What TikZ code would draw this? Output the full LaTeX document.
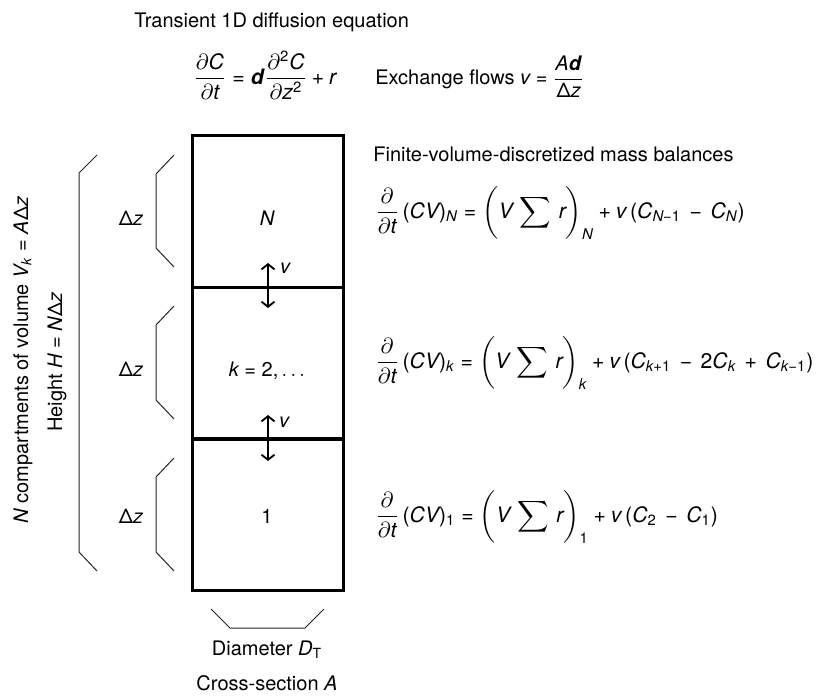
\documentclass[tikz,border=0pt]{standalone}
\usepackage{amsmath}
\usepackage[no-math]{fontspec}
\setmainfont{TeX Gyre Heros}[NFSSFamily=hvs]
\DeclareSymbolFont{hvup}{TU}{hvs}{m}{n}
\DeclareSymbolFont{hvit}{TU}{hvs}{m}{it}
\makeatletter
\@tempcnta=`A
\loop \Umathcode\@tempcnta=7 \symhvit \@tempcnta \advance\@tempcnta by 1 \ifnum\@tempcnta<`[ \repeat
\@tempcnta=`a
\loop \Umathcode\@tempcnta=7 \symhvit \@tempcnta \advance\@tempcnta by 1 \ifnum\@tempcnta<`\{ \repeat
\@tempcnta=`0
\loop \Umathcode\@tempcnta=0 \symhvup \@tempcnta \advance\@tempcnta by 1 \ifnum\@tempcnta<`: \repeat
\makeatother
\Umathcode"2B=2 \symhvup "2B
\Umathcode"3D=3 \symhvup "3D
\Umathcode"28=4 \symhvup "28
\Umathcode"29=5 \symhvup "29
\Umathcode"2C=6 \symhvup "2C
\Umathcode"2D=2 \symhvup "2212
\usetikzlibrary{arrows.meta}
\newcommand{\Dl}{\textup{Δ}}
\newcommand{\bd}{\textbf{\textit{d}}}
\newcommand{\wmin}{\mathbin{\,-\,}}
\newcommand{\wplus}{\mathbin{\,+\,}}
\begin{document}
\begin{tikzpicture}[x=0.5pt,y=-0.5pt,font=\fontsize{10}{12}\selectfont,
  cell/.style={draw,line width=1.5pt,minimum width=75.5pt,minimum height=75.75pt,inner sep=0pt},
  brk/.style={draw=black!85,line width=0.5pt},
  flow/.style={line width=0.9pt,{Straight Barb[length=2.6pt,width=6.5pt]}-{Straight Barb[length=2.6pt,width=6.5pt]}},
  lbl/.style={inner sep=0pt,anchor=base},
  txt/.style={inner sep=0pt,anchor=base west},
  eqn/.style={txt,font=\fontsize{10.6}{12}\selectfont}]
\useasboundingbox (0,0) rectangle (826,696);
% cells
\node[cell] (cN) at (267.5,211.5) {};
\node[cell] (ck) at (267.5,363) {};
\node[cell] (c1) at (267.5,515) {};
% cell labels
\node[lbl] (lN) at (267,225) {$N$};
\node[lbl] (lk) at (267,376) {$k = 2, \ldots$};
\node[lbl] (l1) at (267,523) {$1$};
% exchange arrows
\coordinate (a1t) at (268,263);
\coordinate (a1b) at (268,308);
\coordinate (a2t) at (268,415);
\coordinate (a2b) at (268,461);
\draw[flow] (a1t) -- (a1b);
\draw[flow] (a2t) -- (a2b);
\node[lbl] (v1) at (285,273) {$v$};
\node[lbl] (v2) at (284,427) {$v$};
% small brackets
\draw[brk] (174,155) -- (156,174) -- (156,248) -- (174,267);
\draw[brk] (174,306) -- (156,325) -- (156,400) -- (174,419);
\draw[brk] (174,458) -- (156,477) -- (156,552) -- (174,571);
\node[lbl] (dz1) at (131,225) {$\Dl z$};
\node[lbl] (dz2) at (131,376) {$\Dl z$};
\node[lbl] (dz3) at (131,523) {$\Dl z$};
% big bracket
\draw[brk] (97,155) -- (79,173) -- (79,552) -- (97,571);
\node[lbl,rotate=90] (comp) at (28,360) {$N$ compartments of volume $V_k = A\Dl z$};
\node[lbl,rotate=90] (hgt) at (62,362) {Height $H = N\Dl z$};
% bottom bracket
\draw[brk] (211,609) -- (230,628) -- (305,628) -- (324,609);
\node[lbl] (diam) at (267,655) {Diameter $D_{\textup{T}}$};
\node[lbl] (cross) at (267,690) {Cross-section $A$};
% top texts
\node[txt] (title) at (134,27) {Transient 1D diffusion equation};
\node[eqn] (pde) at (193,84) {$\dfrac{\partial C}{\partial t} = \bd\dfrac{\partial^2 C}{\partial z^2} + r$};
\node[txt] (exch) at (375,84) {Exchange flows $v = \dfrac{A\bd}{\Dl z}$};
\node[txt] (fv) at (373,161) {Finite-volume-discretized mass balances};
% balance equations
\node[eqn] (eqN) at (375,218) {$\dfrac{\partial}{\partial t}\,(CV)_N = \biggl(V\,\displaystyle\sum\, r\biggr)_N + v\,(C_{N-1} \wmin C_N)$};
\node[eqn] (eqk) at (375,368) {$\dfrac{\partial}{\partial t}\,(CV)_k = \biggl(V\,\displaystyle\sum\, r\biggr)_k + v\,(C_{k+1} \wmin 2C_k \wplus C_{k-1})$};
\node[eqn] (eq1) at (375,522) {$\dfrac{\partial}{\partial t}\,(CV)_1 = \biggl(V\,\displaystyle\sum\, r\biggr)_1 + v\,(C_2 \wmin C_1)$};
\end{tikzpicture}
\end{document}
